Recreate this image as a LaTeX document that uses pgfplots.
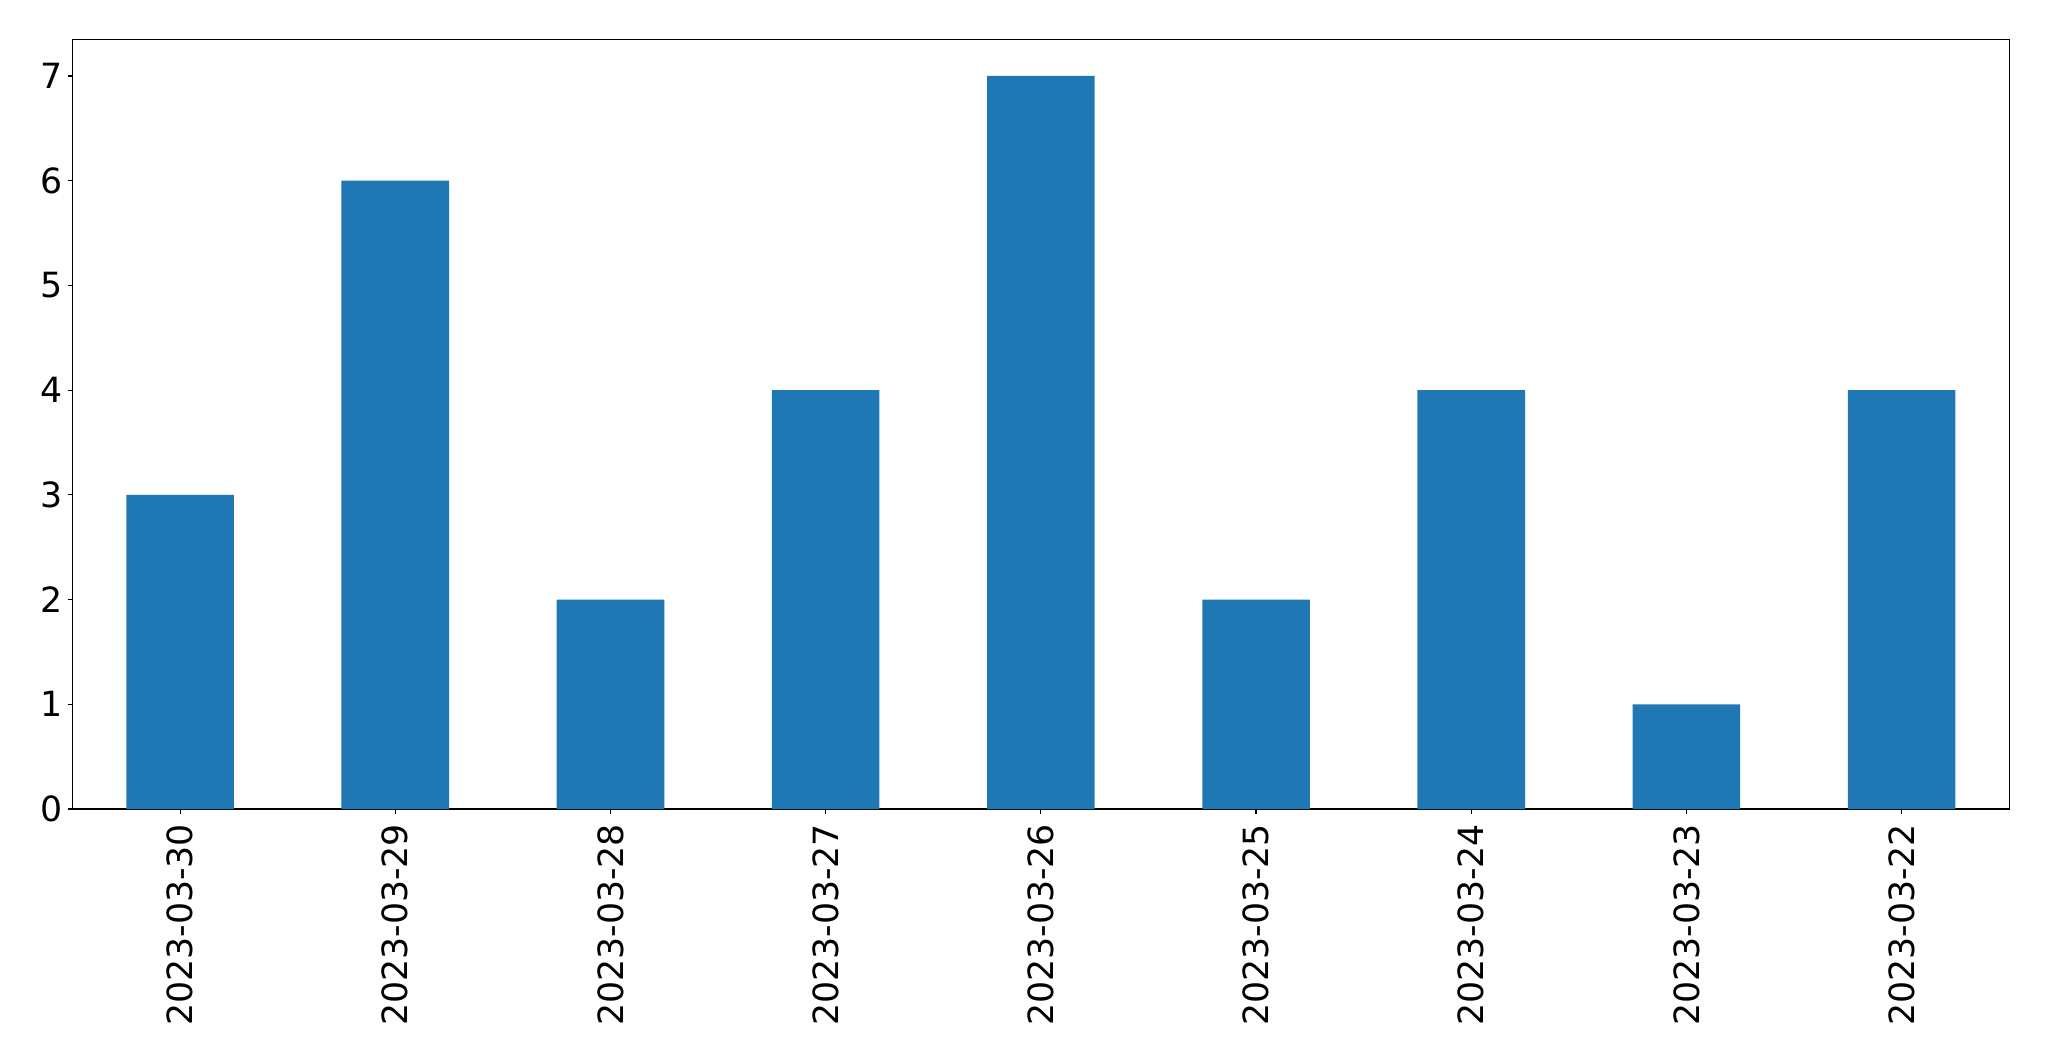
\documentclass[border=0pt]{standalone}
\usepackage{pgfplots}
\pgfplotsset{compat=1.18}
\usepackage{fontspec}
\setmainfont{DejaVu Sans}
\definecolor{mplblue}{HTML}{1F77B4}
\begin{document}
\begin{tikzpicture}
\begin{axis}[
  at={(0,0)}, anchor=south west,
  scale only axis,
  width=1394.5pt, height=554.2pt,
  xmin=-0.5, xmax=8.5, ymin=0, ymax=7.35,
  xtick={0,...,8},
  xticklabels={2023-03-30,2023-03-29,2023-03-28,2023-03-27,2023-03-26,2023-03-25,2023-03-24,2023-03-23,2023-03-22},
  ytick={0,...,7},
  tick align=outside,
  major tick length=3.5pt,
  tick style={black, line width=0.8pt},
  axis line style={line width=0.8pt},
  xtick pos=bottom, ytick pos=left,
  tick label style={font=\fontsize{25}{30}\selectfont},
  /pgf/number format/assume math mode=true,
  x tick label style={rotate=90, anchor=east, inner xsep=7pt},
  ybar, bar width=0.5,
]
\addplot[fill=mplblue, draw=none] coordinates {(0,3) (1,6) (2,2) (3,4) (4,7) (5,2) (6,4) (7,1) (8,4)};
\end{axis}
\pgfresetboundingbox
\path (-52.2pt,-181.4pt) rectangle (1423.1pt,582.5pt);
\end{tikzpicture}
\end{document}
